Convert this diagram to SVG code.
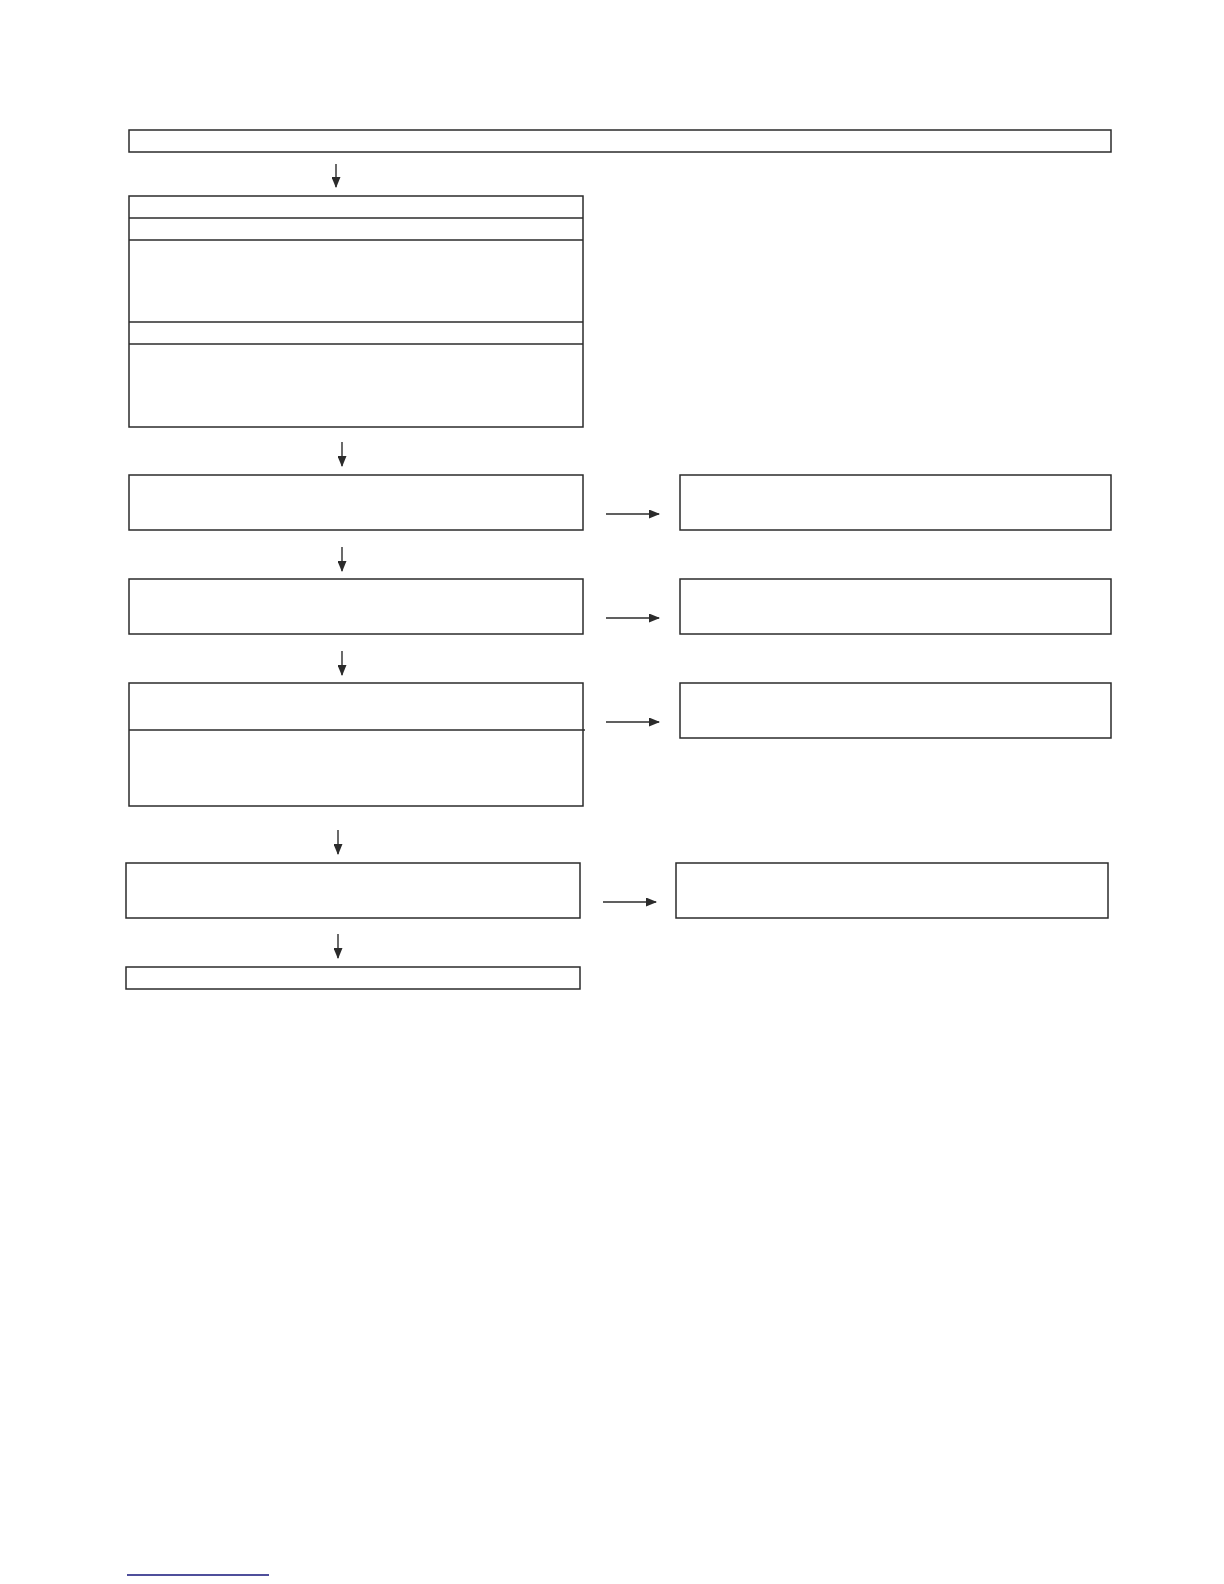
<svg xmlns="http://www.w3.org/2000/svg" width="1224" height="1584" viewBox="0 0 1224 1584">
<style>
.box{fill:#fff;stroke:#2b2b2b;stroke-width:1.5}
.ln{stroke:#2b2b2b;stroke-width:1.5;fill:none}
.con{stroke:#2b2b2b;stroke-width:1.4;fill:none;marker-end:url(#ah)}
</style>
<defs>
<marker id="ah" markerWidth="11" markerHeight="9" refX="10" refY="4.5" orient="auto" markerUnits="userSpaceOnUse">
<path d="M0,0 L11,4.5 L0,9 Z" fill="#2b2b2b"/>
</marker>
</defs>
<rect width="1224" height="1584" fill="#fff"/>
<g id="n1"><rect class="box" x="129" y="130" width="982" height="22"/></g>
<g id="n2">
<rect class="box" x="129" y="196" width="454" height="231"/>
<line class="ln" x1="129" y1="218" x2="583" y2="218"/>
<line class="ln" x1="129" y1="240" x2="583" y2="240"/>
<line class="ln" x1="129" y1="322" x2="583" y2="322"/>
<line class="ln" x1="129" y1="344" x2="583" y2="344"/>
</g>
<g id="n3"><rect class="box" x="129" y="475" width="454" height="55"/></g>
<g id="n3r"><rect class="box" x="680" y="475" width="431" height="55"/></g>
<g id="n4"><rect class="box" x="129" y="579" width="454" height="55"/></g>
<g id="n4r"><rect class="box" x="680" y="579" width="431" height="55"/></g>
<g id="n5">
<rect class="box" x="129" y="683" width="454" height="123"/>
<line class="ln" x1="129" y1="730" x2="585" y2="730"/>
</g>
<g id="n5r"><rect class="box" x="680" y="683" width="431" height="55"/></g>
<g id="n6"><rect class="box" x="126" y="863" width="454" height="55"/></g>
<g id="n6r"><rect class="box" x="676" y="863" width="432" height="55"/></g>
<g id="n7"><rect class="box" x="126" y="967" width="454" height="22"/></g>
<g id="connectors">
<line class="con" x1="336" y1="164" x2="336" y2="187"/>
<line class="con" x1="342" y1="442" x2="342" y2="466"/>
<line class="con" x1="342" y1="547" x2="342" y2="571"/>
<line class="con" x1="342" y1="651" x2="342" y2="675"/>
<line class="con" x1="338" y1="830" x2="338" y2="854"/>
<line class="con" x1="338" y1="934" x2="338" y2="958"/>
<line class="con" x1="606" y1="514" x2="659" y2="514"/>
<line class="con" x1="606" y1="618" x2="659" y2="618"/>
<line class="con" x1="606" y1="722" x2="659" y2="722"/>
<line class="con" x1="603" y1="902" x2="656" y2="902"/>
</g>
<line x1="127" y1="1575" x2="269" y2="1575" stroke="#14147a" stroke-width="1.6"/>
</svg>
